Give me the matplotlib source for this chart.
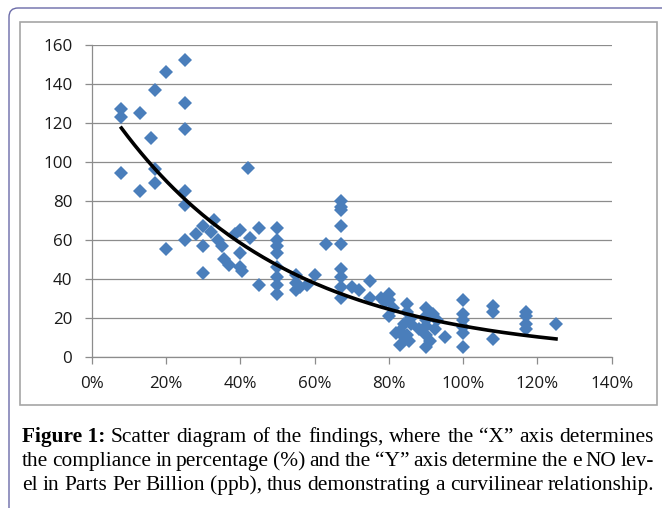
"""Scatter diagram of compliance vs NO level, with exponential trend line."""

import matplotlib
matplotlib.use("Agg")
import matplotlib.pyplot as plt
import numpy as np
from matplotlib.patches import FancyBboxPatch, Rectangle
from matplotlib.ticker import PercentFormatter

# compliance (fraction) and NO level (ppb)
compliance = [
    0.08, 0.08, 0.08, 0.13, 0.13, 0.16, 0.17, 0.17, 0.17, 0.20, 0.20,
    0.25, 0.25, 0.25, 0.25, 0.25, 0.25, 0.28, 0.30, 0.30, 0.30, 0.33,
    0.32, 0.34, 0.35, 0.355, 0.37, 0.385, 0.40, 0.40, 0.40, 0.405, 0.42,
    0.425, 0.45, 0.45, 0.50, 0.50, 0.50, 0.50, 0.50, 0.50, 0.50, 0.50,
    0.55, 0.55, 0.55, 0.56, 0.58, 0.60, 0.63, 0.67, 0.67, 0.67, 0.67,
    0.67, 0.67, 0.67, 0.67, 0.67, 0.70, 0.72, 0.75, 0.75, 0.78, 0.79,
    0.80, 0.80, 0.80, 0.81, 0.82, 0.83, 0.83, 0.84, 0.84, 0.85, 0.85,
    0.85, 0.855, 0.86, 0.86, 0.88, 0.90, 0.90, 0.90, 0.90, 0.90, 0.90,
    0.91, 0.92, 0.925, 0.93, 0.95, 1.00, 1.00, 1.00, 1.00, 1.00, 1.00,
    1.08, 1.08, 1.08, 1.17, 1.17, 1.17, 1.17, 1.25,
]
no_level = [
    127, 123, 94, 125, 85, 112, 137, 96, 89, 146, 55,
    152, 130, 117, 85, 78, 60, 63, 67, 57, 43, 70,
    64, 60, 57, 50, 47, 63, 65, 53, 46, 44, 97,
    61, 66, 37, 66, 60, 57, 53, 46, 41, 37, 32,
    42, 38, 34, 36, 37, 42, 58, 80, 77, 75, 67,
    58, 45, 41, 36, 30, 36, 34, 39, 30, 30, 28,
    32, 29, 21, 25, 12, 6, 13, 17, 10, 27, 23,
    11, 8, 17, 20, 14, 25, 21, 19, 16, 11, 5,
    8, 22, 14, 19, 10, 29, 22, 19, 15, 12, 5,
    26, 23, 9, 23, 21, 17, 14, 17,
]

x_ticks = [0, 0.2, 0.4, 0.6, 0.8, 1.0, 1.2, 1.4]
y_ticks = [0, 20, 40, 60, 80, 100, 120, 140, 160]

caption_lines = [
    "Scatter diagram of the findings, where the \u201cX\u201d axis determines",
    "the compliance in percentage (%) and the \u201cY\u201d axis determine the e NO lev-",
    "el in Parts Per Billion (ppb), thus demonstrating a curvilinear relationship.",
]

W, H = 662, 508
fig = plt.figure(figsize=(W / 100, H / 100), dpi=100)

# outer rounded frame and inner chart frame (pixel coords)
fig.patches.append(FancyBboxPatch((9, -40), 700, H - 8 + 40, boxstyle="round,pad=0,rounding_size=9",
                                  transform=None, fill=False, edgecolor="#6b6ba8", linewidth=1.0))
fig.patches.append(Rectangle((20, H - 405), 637, 405 - 22, transform=None, fill=False,
                             edgecolor="#a6a6a6", linewidth=1.2))

ax = fig.add_axes([91.7 / W, (H - 356.7) / H, 520 / W, 312 / H])
ax.set_xlim(0, 1.4)
ax.set_ylim(0, 160)
ax.set_xticks(x_ticks)
ax.set_yticks(y_ticks)
ax.xaxis.set_major_formatter(PercentFormatter(xmax=1, decimals=0))

grid_col = "#8c8c8c"
ax.grid(axis="y", color=grid_col, linewidth=0.9)
ax.set_axisbelow(True)
for side in ["top", "right"]:
    ax.spines[side].set_visible(False)
for side in ["left", "bottom"]:
    ax.spines[side].set_color(grid_col)
    ax.spines[side].set_linewidth(0.9)
ax.tick_params(axis="both", color=grid_col, width=0.9, length=5, labelsize=12.2,
               labelcolor="#1a1a1a")
ax.tick_params(axis="x", pad=9)
ax.tick_params(axis="y", pad=9)
for lab in ax.get_xticklabels() + ax.get_yticklabels():
    lab.set_fontfamily("Open Sans")

ax.plot(compliance, no_level, linestyle="none", marker="D", markersize=7.3,
        color="#4a7ebb", markeredgewidth=0, clip_on=False, zorder=3)

# exponential trend line (least squares on log y, as in a spreadsheet trendline)
xs = np.array(compliance)
ys = np.array(no_level)
b, ln_a = np.polyfit(xs, np.log(ys), 1)
tx = np.linspace(xs.min(), xs.max(), 200)
ax.plot(tx, np.exp(ln_a) * np.exp(b * tx), color="black", linewidth=2.6, zorder=4)

# justified caption
renderer = fig.canvas.get_renderer()
x0, x1 = 22, 656
baselines = [442, 466, 490]
fsize = 15.4

for i, line in enumerate(caption_lines):
    words = line.split(" ")
    items = []
    if i == 0:
        items.append(("Figure 1:", "bold"))
    items += [(w, "normal") for w in words]
    texts = []
    for w, weight in items:
        t = fig.text(0, (H - baselines[i]) / H, w, fontsize=fsize, fontweight=weight,
                     family="Liberation Serif", va="baseline", ha="left", color="black")
        texts.append(t)
    widths = [t.get_window_extent(renderer=renderer).width for t in texts]
    gap = (x1 - 2 - x0 - sum(widths)) / (len(texts) - 1)
    if i == 2:
        gap = min(gap, fsize * 0.25 * 100 / 72)
    x = x0
    for t, w in zip(texts, widths):
        t.set_x(x / W)
        x += w + gap

fig.savefig("out.png", dpi=100)
